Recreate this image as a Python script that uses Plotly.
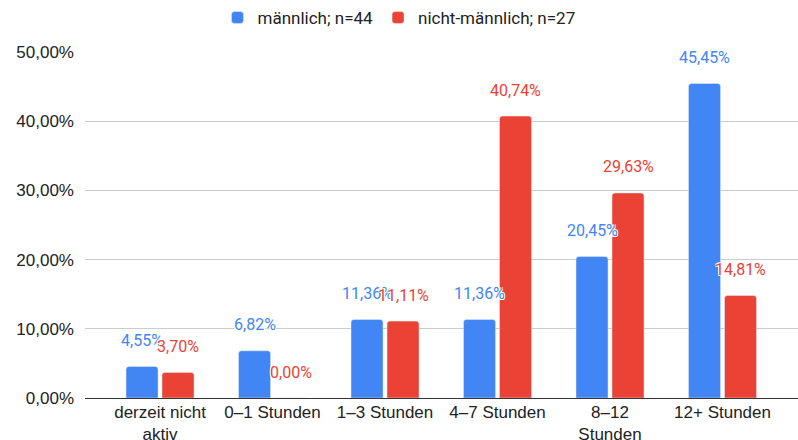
import plotly.graph_objects as go

# Data
categories = ["derzeit nicht<br>aktiv", "0–1 Stunden", "1–3 Stunden", "4–7 Stunden", "8–12<br>Stunden", "12+ Stunden"]
male = [4.55, 6.82, 11.36, 11.36, 20.45, 45.45]
non_male = [3.70, 0.00, 11.11, 40.74, 29.63, 14.81]
series_names = ["männlich; n=44", "nicht-männlich; n=27"]
y_ticks = [0, 10, 20, 30, 40, 50]

BLUE = "#4285F4"
RED = "#EA4335"
halo = "-1px -1px 0 #fff, 1px -1px 0 #fff, -1px 1px 0 #fff, 1px 1px 0 #fff"


def fmt(v):
    return f"{v:.2f}".replace(".", ",") + "%"


fig = go.Figure()
fig.add_trace(go.Bar(x=categories, y=male, name=series_names[0], marker_color=BLUE))
fig.add_trace(go.Bar(x=categories, y=non_male, name=series_names[1], marker_color=RED))

# Data labels above each bar
for vals, color, shift in [(male, BLUE, -18), (non_male, RED, 18)]:
    for cat, v in zip(categories, vals):
        fig.add_annotation(x=cat, y=v, text=fmt(v), showarrow=False,
                           xshift=shift, yshift=26, yanchor="middle",
                           font=dict(family="Roboto", size=16, color=color, shadow=halo))

fig.update_layout(
    width=798, height=440,
    margin=dict(l=85, r=0, t=52, b=42),
    paper_bgcolor="white", plot_bgcolor="white",
    barmode="group", bargap=0.36, bargroupgap=0.11, barcornerradius=3,
    font=dict(family="Liberation Sans, Arial", size=17, color="#222"),
    legend=dict(orientation="h", xref="container", yref="container",
                x=0.5, xanchor="center", y=1.0, yanchor="top",
                font=dict(family="Roboto", size=17, color="#222"),
                itemwidth=30),
    xaxis=dict(type="category", range=[-0.667, 5.671], showgrid=False,
               showline=False, ticks="", automargin=False,
               ticklabelstandoff=2, tickfont=dict(size=17, color="#222")),
    yaxis=dict(range=[0, 50], tickvals=y_ticks, ticktext=[fmt(v) for v in y_ticks],
               gridcolor="#cccccc", gridwidth=1, zeroline=True, zerolinecolor="#333",
               zerolinewidth=1, showline=False, ticks="", automargin=False,
               ticklabelstandoff=10, tickfont=dict(size=17, color="#222")),
    showlegend=True,
)

# drop the default page margin so the figure sits at the window origin
fig.write_html("out.html", config={"displayModeBar": False},
               post_script="document.body.style.margin='0';")
